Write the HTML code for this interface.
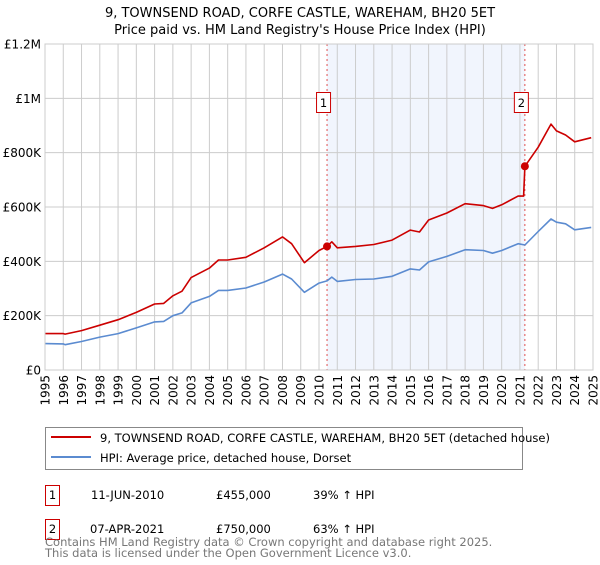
<!DOCTYPE html>
<html><head><meta charset="utf-8"><style>
body{margin:0;background:#fff;font-family:"Liberation Sans","DejaVu Sans",sans-serif;}
svg text{font-family:"DejaVu Sans","Liberation Sans",sans-serif;}
</style></head><body>
<svg id="chart" width="600" height="560" xmlns="http://www.w3.org/2000/svg">
<text x="300" y="17" text-anchor="middle" font-size="13" fill="#000">9, TOWNSEND ROAD, CORFE CASTLE, WAREHAM, BH20 5ET</text>
<text x="300" y="34" text-anchor="middle" font-size="13" fill="#000">Price paid vs. HM Land Registry's House Price Index (HPI)</text>
<g id="plot"></g>
<g>
<rect x="45.5" y="427.5" width="477" height="42" fill="#fff" stroke="#888"/>
<line x1="51" y1="437" x2="91" y2="437" stroke="#cc0000" stroke-width="2"/>
<text x="100" y="442" font-size="11.5">9, TOWNSEND ROAD, CORFE CASTLE, WAREHAM, BH20 5ET (detached house)</text>
<line x1="51" y1="457" x2="91" y2="457" stroke="#5b8bd0" stroke-width="2"/>
<text x="100" y="462" font-size="11.5">HPI: Average price, detached house, Dorset</text>
</g>
<g>
<rect x="45.5" y="485.5" width="14" height="20" fill="#fff" stroke="#cc0000"/>
<text x="52.5" y="499" text-anchor="middle" font-size="11.5">1</text>
<text x="91" y="499" font-size="11.5">11-JUN-2010</text>
<text x="216" y="499" font-size="11.5">£455,000</text>
<text x="313" y="499" font-size="11.5">39% ↑ HPI</text>
<rect x="45.5" y="519.5" width="14" height="20" fill="#fff" stroke="#cc0000"/>
<text x="52.5" y="533" text-anchor="middle" font-size="11.5">2</text>
<text x="90" y="533" font-size="11.5">07-APR-2021</text>
<text x="216" y="533" font-size="11.5">£750,000</text>
<text x="313" y="533" font-size="11.5">63% ↑ HPI</text>
</g>
<text x="45" y="546" font-size="11.5" fill="#777">Contains HM Land Registry data © Crown copyright and database right 2025.</text>
<text x="45" y="557" font-size="11.5" fill="#777">This data is licensed under the Open Government Licence v3.0.</text>
</svg>
<script>
const yTicks=[0,200000,400000,600000,800000,1000000,1200000];
const yTickLabels=["£0","£200K","£400K","£600K","£800K","£1M","£1.2M"];
const years=[1995,1996,1997,1998,1999,2000,2001,2002,2003,2004,2005,2006,2007,2008,2009,2010,2011,2012,2013,2014,2015,2016,2017,2018,2019,2020,2021,2022,2023,2024,2025];
const hpiDates=[1995,1996,1996.1,1997,1998,1999,2000,2001,2001.5,2002,2002.5,2003,2004,2004.5,2005,2006,2007,2008,2008.5,2009.2,2010,2010.44,2010.7,2011,2012,2013,2014,2015,2015.5,2016,2017,2018,2019,2019.5,2020,2020.9,2021.27,2022,2022.7,2023,2023.5,2024,2024.9];
const hpiValues=[97000,96000,93000,105000,121000,134000,155000,177000,179000,200000,210000,247000,271000,293000,293000,302000,324000,353000,335000,286000,320000,328000,342000,326000,333000,335000,345000,372000,368000,398000,418000,443000,440000,430000,440000,465000,460000,510000,556000,544000,538000,516000,525000];
const propDates=[1995,1996,1996.1,1997,1998,1999,2000,2001,2001.5,2002,2002.5,2003,2004,2004.5,2005,2006,2007,2008,2008.5,2009.2,2010,2010.44,2010.7,2011,2012,2013,2014,2015,2015.5,2016,2017,2018,2019,2019.5,2020,2020.9,2021.2,2021.27,2022,2022.7,2023,2023.5,2024,2024.9];
const propValues=[134000,134000,132000,145000,165000,185000,212000,243000,245000,273000,290000,340000,375000,405000,405000,415000,450000,490000,465000,395000,440000,455000,472000,450000,455000,462000,478000,515000,508000,552000,578000,612000,605000,595000,608000,640000,640000,750000,820000,905000,880000,865000,840000,855000];
const saleDates=[2010.44,2021.27];
const salePrices=[455000,750000];
const saleLabels=["1","2"];

const NS="http://www.w3.org/2000/svg";
const X0=45,X1=593,Y0=370,Y1=44;
const xs=t=>X0+(t-1995)/30*(X1-X0);
const ys=v=>Y0-v/1200000*(Y0-Y1);
const plot=document.getElementById('plot');
function mk(tag,attrs){const e=document.createElementNS(NS,tag);for(const k in attrs)e.setAttribute(k,attrs[k]);plot.appendChild(e);return e;}
let r=mk('rect',{x:xs(saleDates[0]),y:Y1,width:xs(saleDates[1])-xs(saleDates[0]),height:Y0-Y1,fill:'#f1f5fd'});


years.forEach(y=>{
 let l=mk('line',{x1:xs(y),x2:xs(y),y1:Y1,y2:Y0,stroke:'#cccccc','stroke-width':1});
 
 
 let t=mk('text',{x:0,y:0,'font-size':12,'text-anchor':'end',transform:`translate(${xs(y)+4.5},${Y0+5}) rotate(-90)`});
 t.textContent=y;
 
 
});
yTicks.forEach((v,i)=>{
 let l=mk('line',{x1:X0,x2:X1,y1:ys(v),y2:ys(v),stroke:'#cccccc','stroke-width':1});
 
 
 let t=mk('text',{x:X0-4,y:ys(v)+4.5,'font-size':12,'text-anchor':'end'});
 t.textContent=yTickLabels[i];
 
 
});
saleDates.forEach((d,i)=>{
 let l=mk('line',{x1:xs(d),x2:xs(d),y1:Y1,y2:Y0,stroke:'#e05050','stroke-width':1,'stroke-dasharray':'2,3'});
 
 
});
function path(dates,vals,color,name){
 let d=dates.map((t,i)=>(i?'L':'M')+xs(t).toFixed(1)+','+ys(vals[i]).toFixed(1)).join('');
 let p=mk('path',{d:d,fill:'none',stroke:color,'stroke-width':1.6,'stroke-linejoin':'round'});
 
 
}
path(hpiDates,hpiValues,'#5b8bd0','hpi-line');
path(propDates,propValues,'#cc0000','property-price-line');
saleDates.forEach((d,i)=>{
 let c=mk('circle',{cx:xs(d),cy:ys(salePrices[i]),r:4,fill:'#cc0000'});
 
 
 let bx=xs(d)-11;
 let b=mk('rect',{x:bx+0.5,y:92.5,width:14,height:20,fill:'#fff',stroke:'#cc0000'});
 
 
 let t=mk('text',{x:bx+7.5,y:107,'font-size':11.5,'text-anchor':'middle'});
 t.textContent=saleLabels[i];
 
 
});
let f=mk('rect',{x:X0,y:Y1,width:X1-X0,height:Y0-Y1,fill:'none',stroke:'#cccccc'});


</script>
</body></html>
